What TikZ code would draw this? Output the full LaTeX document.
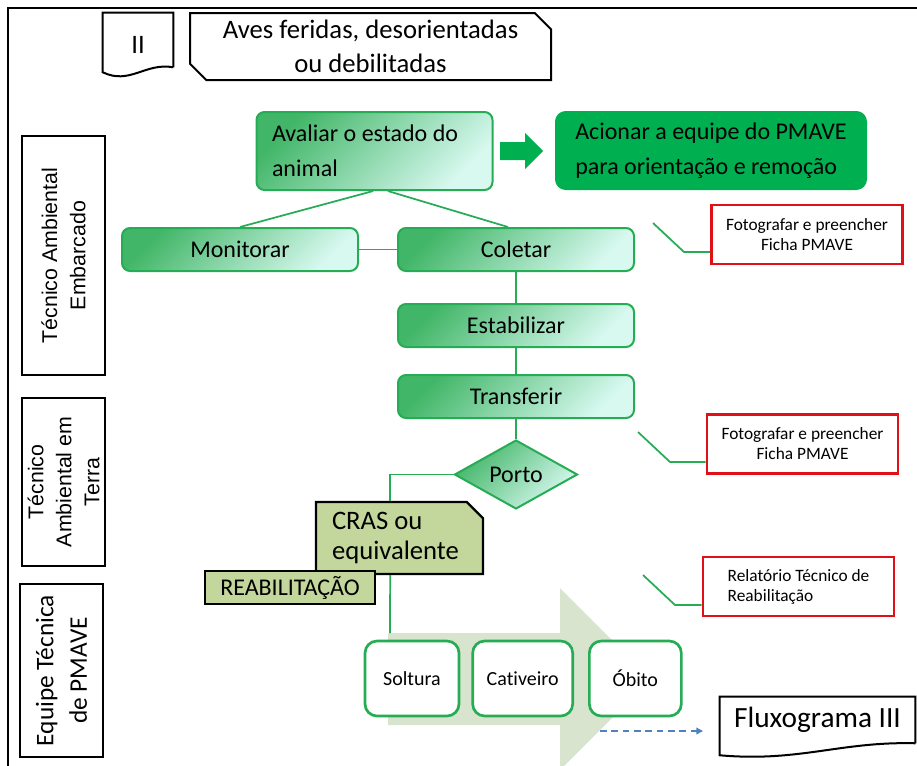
\documentclass[tikz,border=0pt]{standalone}
\usepackage{fontspec}
\setmainfont{Carlito}[Ligatures=NoCommon]
\newfontfamily\arialfont{Liberation Sans}
\usetikzlibrary{positioning, arrows.meta}
\usetikzlibrary{shapes.geometric, shapes.misc}

\definecolor{pmgreen}{RGB}{0,176,80}
\definecolor{lnGreen}{RGB}{38,172,84}
\definecolor{gdark}{RGB}{66,182,104}
\definecolor{glight}{RGB}{216,249,240}
\definecolor{oliveBox}{RGB}{195,214,155}
\definecolor{sage}{RGB}{217,228,206}
\definecolor{redBox}{RGB}{224,16,22}
\definecolor{dashBlue}{RGB}{79,129,189}

\begin{document}
\begin{tikzpicture}[x=0.75pt, y=-0.75pt,
    lane/.style={draw, line width=1.6pt, rotate=90, align=center, inner sep=0pt,
      minimum height=62.25pt, font=\arialfont\fontsize{16}{21}\selectfont},
    etapa/.style={draw=lnGreen, line width=1.5pt, rounded corners=6pt,
      top color=gdark, bottom color=glight, shading angle=45,
      minimum width=177pt, minimum height=32.25pt, inner sep=0pt,
      font=\fontsize{18}{26}\selectfont},
    destino/.style={draw=lnGreen, line width=2pt, rounded corners=9pt, fill=white,
      minimum height=56.25pt, inner sep=0pt, font=\fontsize{15}{18}\selectfont},
    ficha/.style={draw=redBox, line width=1.8pt, fill=white, minimum width=143.5pt,
      minimum height=44pt, inner sep=0pt, align=center,
      font=\fontsize{13}{15}\selectfont},
    oliva/.style={draw, line width=1.6pt, fill=oliveBox, inner sep=0pt},
    elo/.style={draw=lnGreen, line width=1.3pt}]
\useasboundingbox (0,0) rectangle (917,765);
\clip (0,0) rectangle (917,765);
\draw[line width=1.6pt] (8,8) rectangle (940,790);

% faixas
\node[lane, minimum width=179.25pt] (emb) at (63.5,255.5) {Técnico Ambiental\\Embarcado};
\node[lane, minimum width=126pt] (terra) at (63.5,482) {Técnico\\Ambiental em\\Terra};
\node[lane, minimum width=129.75pt, font=\fontsize{19}{25}\selectfont] (equipe) at (61.5,670.5) {Equipe Técnica\\de PMAVE};

% cabecalho
\node[minimum width=52.5pt, minimum height=40.5pt, inner sep=0pt] (doc) at (138,40) {};
\node[font=\fontsize{20}{24}\selectfont] (docII) at (138,45) {II};
\draw[line width=1.5pt] (doc.south east) -- (doc.north east) -- (doc.north west)
  -- ([yshift=-3.75pt]doc.south west) .. controls +(27,13) and +(-28,-5) .. (doc.south east);
\node[draw, line width=1.5pt, chamfered rectangle, chamfered rectangle corners={north east, south west},
  chamfered rectangle xsep=9pt, minimum width=270.75pt, minimum height=50.25pt, inner sep=0pt,
  align=center, font=\fontsize{20}{25.5}\selectfont] (titulo) at (370.5,46.5) {Aves feridas, desorientadas\\ou debilitadas};

% seta de fundo
\fill[sage] (388,633) -- (560,633) -- (560,588) -- (651,679) -- (560,770) -- (560,725) -- (388,725) -- cycle;
\coordinate (seta) at (390,633);

% etapas
\node[etapa, minimum height=58.5pt, text width=153.75pt, align=flush left] (aval) at (374.5,151) {Avaliar o estado do\\animal};
\fill[pmgreen] (500,142) -- (525,142) -- (525,133) -- (543,151) -- (525,169) -- (525,160) -- (500,160) -- cycle;
\node[fill=pmgreen, rounded corners=8pt, minimum width=234pt, minimum height=59.25pt, inner sep=0pt,
  align=left, font=\fontsize{18}{26}\selectfont] (acion) at (711,150.5) {Acionar a equipe do PMAVE\\para orientação e remoção};
\node[etapa] (cole) at (516,249.5) {Coletar};
\node[etapa, left=28.5pt of cole] (moni) {Monitorar};
\node[etapa, below=23.25pt of cole] (esta) {Estabilizar};
\node[etapa, below=19.5pt of esta] (tran) {Transferir};
\node[etapa, diamond, sharp corners, minimum width=92.25pt, minimum height=48.75pt, below=15pt of tran] (porto) {Porto};

\node[oliva, chamfered rectangle, chamfered rectangle corners=north east, chamfered rectangle xsep=9pt,
  minimum width=125.25pt, minimum height=54pt, text width=101.25pt, align=flush left,
  font=\fontsize{20}{22.5}\selectfont] (cras) at (399.5,538) {CRAS ou\\equivalente};
\node[oliva, minimum width=127.5pt, minimum height=24.75pt, font=\fontsize{18}{20}\selectfont] (reab) at (290,587.5) {REABILITAÇÃO};

\node[destino, minimum width=70.5pt] (solt) at (412,678.5) {Soltura};
\node[destino, minimum width=75pt, right=8.25pt of solt] (cati) {Cativeiro};
\node[destino, minimum width=69pt, right=10.5pt of cati] (obito) {Óbito};

\node[minimum width=146.25pt, minimum height=34.5pt, inner sep=0pt, font=\fontsize{22}{26}\selectfont] (fluxo) at (817.5,720) {Fluxograma III};
\draw[line width=1.5pt] (fluxo.south east) -- (fluxo.north east) -- (fluxo.north west)
  -- ([yshift=-9pt]fluxo.south west) .. controls +(80,7) and +(-75,-2) .. (fluxo.south east);

% fichas
\node[ficha] (ficha1) at (807,234.5) {Fotografar e preencher\\Ficha PMAVE};
\node[ficha] (ficha2) at (802.5,444) {Fotografar e preencher\\Ficha PMAVE};
\node[ficha, align=left] (relat) at (798.5,586.5) {Relatório Técnico de\\Reabilitação};

% ligacoes
\draw[elo] ([xshift=-1pt]aval.south) -- (moni.north);
\draw[elo] ([xshift=10pt]aval.south) -- ([xshift=-6pt]cole.north);
\draw[elo] (moni.east) -- (moni.east -| cole.west);
\draw[elo] (cole) -- (esta);
\draw[elo] (esta) -- (tran);
\draw[elo] (tran) -- (porto);
\draw[elo] (porto.west) -| ([xshift=-7pt]cras.north);
\draw[elo] ([xshift=-7pt]cras.south) -- (seta);

\coordinate (a1) at (653,223); \coordinate (b1) at (684,252);
\coordinate (a2) at (638,432); \coordinate (b2) at (670,462);
\coordinate (a3) at (643,575); \coordinate (b3) at (675,605);
\draw[elo] (a1) -- (b1) -- (b1 -| ficha1.west);
\draw[elo] (a2) -- (b2) -- (b2 -| ficha2.west);
\draw[elo] (a3) -- (b3) -- (b3 -| relat.west);

\coordinate (d1) at (600,731); \coordinate (d2) at (703,731);
\draw[dashBlue, line width=1pt, dash pattern=on 5pt off 3.5pt, -{Triangle[length=5pt,width=5pt]}] (d1) -- (d2);
\end{tikzpicture}
\end{document}
